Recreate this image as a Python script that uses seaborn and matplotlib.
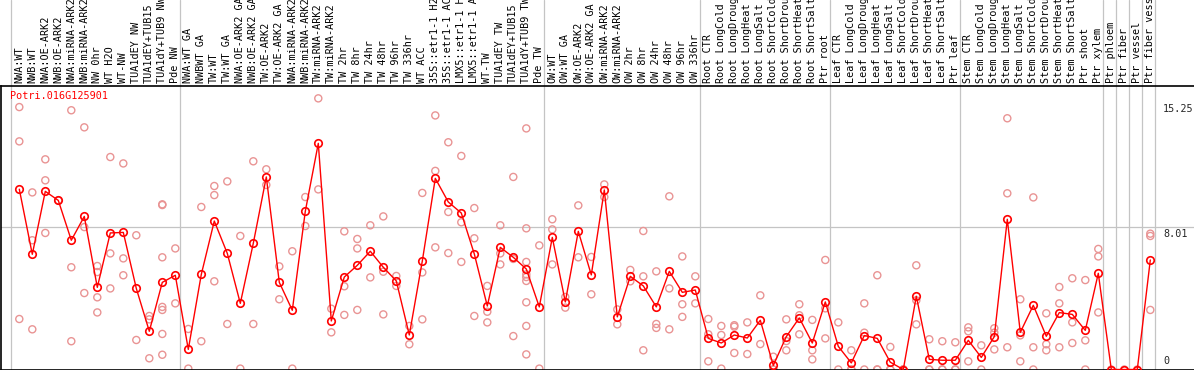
import numpy as np
import pandas as pd
import seaborn as sns
from matplotlib import pyplot as plt
from matplotlib import transforms

gene = 'Potri.016G125901'

labels = ['NWA:WT', 'NWB:WT', 'NWA:OE-ARK2', 'NWB:OE-ARK2', 'NWA:miRNA-ARK2', 'NWB:miRNA-ARK2',
          'NW 0hr', 'WT H2O', 'WT-NW', 'TUA1dEY NW', 'TUA1dEY+TUB15', 'TUA1dY+TUB9 NW', 'Pde NW',
          'NWA:WT GA', 'NWBWT GA', 'TW:WT', 'TW:WT GA', 'NWA:OE-ARK2 GA', 'NWB:OE-ARK2 GA',
          'TW:OE-ARK2', 'TW:OE-ARK2 GA', 'NWA:miRNA-ARK2', 'NWB:miRNA-ARK2', 'TW:miRNA-ARK2',
          'TW:miRNA-ARK2', 'TW 2hr', 'TW 8hr', 'TW 24hr', 'TW 48hr', 'TW 96hr', 'TW 336hr', 'WT ACC',
          '35S::etr1-1 H2O', '35S::etr1-1 ACC', 'LMX5::etr1-1 H2O', 'LMX5::etr1-1 ACC', 'WT-TW',
          'TUA1dEY TW', 'TUA1dEY+TUB15', 'TUA1dY+TUB9 TW', 'Pde TW',
          'OW:WT', 'OW:WT GA', 'OW:OE-ARK2', 'OW:OE-ARK2 GA', 'OW:miRNA-ARK2', 'OW:miRNA-ARK2',
          'OW 2hr', 'OW 8hr', 'OW 24hr', 'OW 48hr', 'OW 96hr', 'OW 336hr',
          'Root CTR', 'Root LongCold', 'Root LongDrought', 'Root LongHeat', 'Root LongSalt',
          'Root ShortCold', 'Root ShortDrought', 'Root ShortHeat', 'Root ShortSalt', 'Ptr root',
          'Leaf CTR', 'Leaf LongCold', 'Leaf LongDrought', 'Leaf LongHeat', 'Leaf LongSalt',
          'Leaf ShortCold', 'Leaf ShortDrought', 'Leaf ShortHeat', 'Leaf ShortSalt', 'Ptr leaf',
          'Stem CTR', 'Stem LongCold', 'Stem LongDrought', 'Stem LongHeat', 'Stem LongSalt',
          'Stem ShortCold', 'Stem ShortDrought', 'Stem ShortHeat', 'Stem ShortSalt', 'Ptr shoot',
          'Ptr xylem', 'Ptr phloem', 'Ptr fiber', 'Ptr vessel', 'Ptr fiber vessel']

means = [10.14, 6.48, 10.02, 9.51, 7.27, 8.61, 4.62, 7.68, 7.71, 4.56, 2.15, 4.90, 5.30,
         1.13, 5.35, 8.35, 6.53, 3.72, 7.10, 10.83, 4.90, 3.33, 8.90, 12.72, 2.73, 5.20, 5.86,
         6.65, 5.75, 4.98, 1.94, 6.10, 10.75, 9.42, 8.80, 6.50, 3.57, 6.87, 6.31, 5.65, 3.52,
         7.43, 3.80, 7.77, 5.32, 10.10, 2.96, 5.24, 4.70, 3.52, 5.52, 4.34, 4.47,
         1.75, 1.49, 1.94, 1.77, 2.77, 0.23, 1.85, 2.90, 1.49, 3.80,
         1.30, 0.37, 1.91, 1.75, 0.41, 0.0, 4.12, 0.57, 0.52, 0.52,
         1.64, 0.68, 1.85, 8.45, 2.09, 3.61, 1.87, 3.20, 3.10, 2.20, 5.41,
         0.0, 0.0, 0.0, 6.16]

replicates = [[14.76, 12.83, 2.84], [9.96, 7.27, 2.26], [11.82, 10.64, 7.68], [9.51],
              [14.58, 5.75, 1.59], [13.62, 8.01, 4.30], [5.82, 5.48, 4.06, 3.21],
              [11.95, 6.53, 4.56], [11.59, 6.25, 5.30], [7.55, 1.66], [3.01, 2.82, 0.63],
              [9.29, 9.25, 6.31, 3.52, 3.35, 2.00, 0.83], [6.81, 3.72], [2.28, 0.05],
              [9.14, 1.59], [10.32, 9.81, 4.96], [10.58, 2.56], [7.51, 0.05], [11.71, 2.56],
              [11.26, 10.38], [5.80, 3.95], [6.65, 0.05], [9.70, 8.07], [15.25, 10.13],
              [3.42, 2.09], [7.77, 4.68, 3.07], [7.34, 6.81, 3.35], [8.11, 5.18],
              [8.61, 5.50, 3.10], [5.26, 4.70], [2.45, 1.42], [9.93, 5.46, 2.82],
              [14.29, 11.17, 6.87], [12.78, 8.86, 6.55], [12.01, 8.28, 6.05], [9.08, 7.38, 3.01],
              [4.70, 3.25, 2.65], [8.11, 6.53, 5.91], [10.83, 6.22, 1.88],
              [13.56, 7.94, 6.05, 5.35, 5.20, 4.98, 3.78, 2.45, 0.85], [6.98, 0.05],
              [8.45, 7.88, 5.91], [4.08, 3.48], [9.23, 6.31], [6.33, 4.23], [10.41, 9.70],
              [3.38, 2.54], [5.60, 4.96], [7.79, 5.24, 1.08], [5.52, 2.56, 2.34],
              [9.74, 4.56, 2.26], [6.36, 3.67, 2.96], [5.24, 3.72],
              [2.84, 1.98, 0.46], [2.45, 1.94, 0.05], [2.49, 2.41, 0.93], [2.65, 0.87],
              [4.17, 1.43], [0.72, 0.0, 0.0], [2.82, 1.60, 1.08], [3.67, 3.05, 1.98],
              [2.79, 1.08, 0.57], [6.16, 3.44, 1.75],
              [2.65, 0.0], [1.08, 0.0, 0.0], [3.72, 2.07, 0.0], [5.30, 0.0, 0.0], [1.27, 0.0, 0.0],
              [0.0, 0.0, 0.0], [5.86, 3.89, 2.54], [1.70, 0.0, 0.0], [1.59, 0.0, 0.0],
              [1.53, 0.0, 0.0],
              [2.37, 2.15, 0.46], [1.36, 0.0], [2.32, 2.07, 1.13], [14.13, 9.91, 1.25],
              [3.95, 1.92, 0.46], [9.68, 1.25, 0.0], [3.16, 1.42, 1.08], [4.64, 3.72, 1.25],
              [5.13, 2.65, 1.49], [5.03, 1.64, 0.0], [6.78, 6.36, 3.21],
              [0.0], [0.0], [0.0], [7.64, 7.51, 3.35]]

# columns after which a separator line is drawn
group_breaks = [0, 13, 41, 53, 63, 73, 84, 85, 86, 87, 88]
tick_values = [15.25, 8.01, 0]

# pixel geometry of the reference
W, H = 1194, 370
px_top, px_bottom = 86, 369.5
px_per_unit = 17.78
col_w, col0 = 13, 19.3

pos = np.arange(len(labels))
rep_df = pd.DataFrame([(i, v) for i, reps in enumerate(replicates) for v in reps],
                      columns=['pos', 'value'])

sns.set_style('white')
plt.rcParams['font.family'] = ['DejaVu Sans Mono']

fig = plt.figure(figsize=(W / 100, H / 100), dpi=100)
ax = fig.add_axes([1 / W, (H - px_bottom) / H, (W - 1) / W, (px_bottom - px_top) / H])
ax.set_xlim((1 - col0) / col_w, (W - col0) / col_w)
ax.set_ylim(0, (px_bottom - px_top) / px_per_unit)

grid_c = '#c4c4c4'
ax.axhline(8.01, color=grid_c, lw=0.9, zorder=0)
top_frac = (px_bottom) / (px_bottom - px_top)
for b in group_breaks:
    ax.axvline(b - (col0 - 11) / col_w, ymin=0, ymax=top_frac, color=grid_c, lw=0.9,
               clip_on=False, zorder=0)

sns.scatterplot(data=rep_df, x='pos', y='value', ax=ax, marker='o', s=26,
                facecolors='none', edgecolors='#e99494', linewidths=1.0, zorder=2)
sns.lineplot(x=pos, y=means, ax=ax, color='#ff0000', lw=1.0, marker='o', markersize=5.4,
             markerfacecolor='none', markeredgecolor='#ff0000', markeredgewidth=1.2, zorder=3)

# column labels above the plot
trans = transforms.blended_transform_factory(ax.transData, ax.transAxes)
lab_y = 1 + 3 / (px_bottom - px_top)
for i, lab in enumerate(labels):
    ax.text(i, lab_y, lab, transform=trans, rotation=90, ha='center', va='bottom',
            fontsize=7.3, color='black', clip_on=False)

ax.text(9 / (W - 1), 1 - 5 / (px_bottom - px_top), gene, transform=ax.transAxes,
        ha='left', va='top', fontsize=7.3, color='#ff0000')

rtrans = transforms.blended_transform_factory(ax.transAxes, ax.transData)
rx = (1163 - 1) / (W - 1)
ax.text(rx, 15.25 - 5.5 / px_per_unit, '15.25', transform=rtrans, ha='left', va='top', fontsize=7.3)
ax.text(rx, 8.01 - 1.5 / px_per_unit, '8.01', transform=rtrans, ha='left', va='top', fontsize=7.3)
ax.text(rx, 0 + 4 / px_per_unit, '0', transform=rtrans, ha='left', va='bottom', fontsize=7.3)

ax.set_xlabel('')
ax.set_ylabel('')
ax.set_xticks([])
ax.set_yticks([])
for side in ['left', 'bottom', 'top']:
    ax.spines[side].set_color('black')
    ax.spines[side].set_linewidth(1.2)
ax.spines['right'].set_visible(False)
ax.legend_ = None

fig.savefig('out.png', dpi=100, facecolor='white')
